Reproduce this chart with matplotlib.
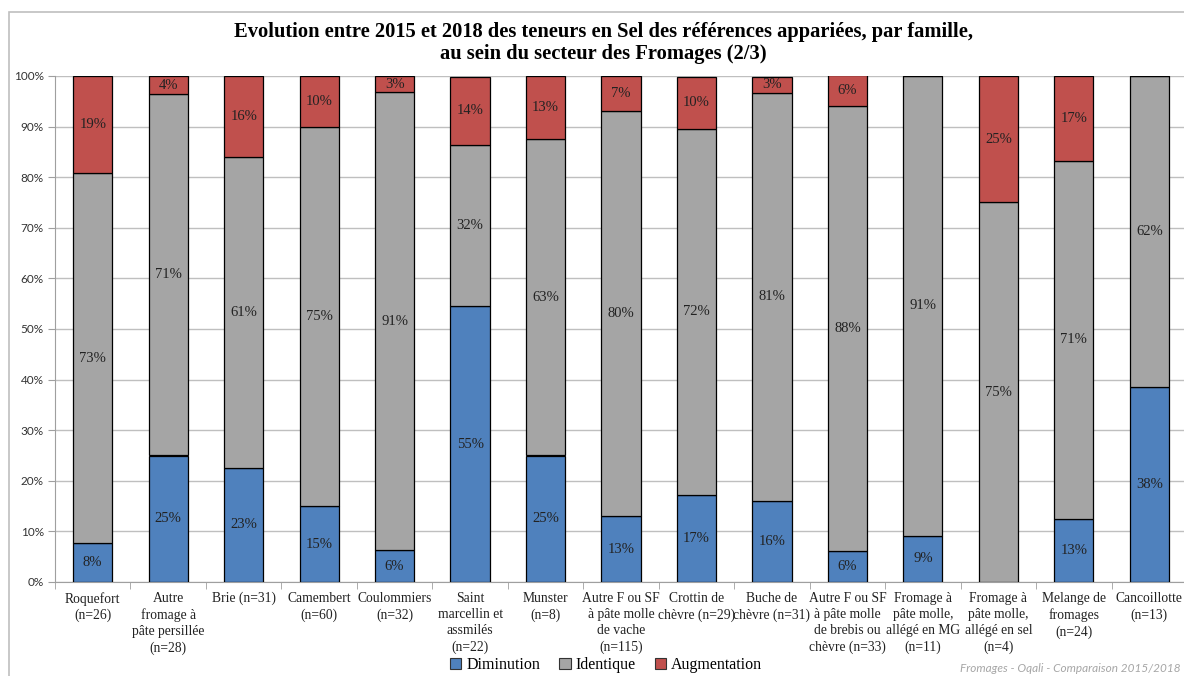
import matplotlib
matplotlib.use("Agg")
import matplotlib.pyplot as plt
import numpy as np
from matplotlib.patches import Rectangle, Patch

categories = [
    "Roquefort\n(n=26)",
    "Autre\nfromage à\npâte persillée\n(n=28)",
    "Brie (n=31)",
    "Camembert\n(n=60)",
    "Coulommiers\n(n=32)",
    "Saint\nmarcellin et\nassmilés\n(n=22)",
    "Munster\n(n=8)",
    "Autre F ou SF\nà pâte molle\nde vache\n(n=115)",
    "Crottin de\nchèvre (n=29)",
    "Buche de\nchèvre (n=31)",
    "Autre F ou SF\nà pâte molle\nde brebis ou\nchèvre (n=33)",
    "Fromage à\npâte molle,\nallégé en MG\n(n=11)",
    "Fromage à\npâte molle,\nallégé en sel\n(n=4)",
    "Melange de\nfromages\n(n=24)",
    "Cancoillotte\n(n=13)",
]
diminution   = [7.7, 25.0, 22.6, 15.0, 6.25, 54.5, 25.0, 13.0, 17.2, 16.1, 6.1, 9.1, 0.0, 12.5, 38.46]
identique    = [73.1, 71.4, 61.3, 75.0, 90.6, 31.8, 62.5, 80.0, 72.4, 80.6, 87.9, 90.9, 75.0, 70.8, 61.54]
augmentation = [19.2, 3.6, 16.1, 10.0, 3.1, 13.6, 12.5, 7.0, 10.3, 3.2, 6.1, 0.0, 25.0, 16.7, 0.0]
series_names = ["Diminution", "Identique", "Augmentation"]
colors = ["#4F81BD", "#A5A5A5", "#C0504D"]
yticks = [0, 10, 20, 30, 40, 50, 60, 70, 80, 90, 100]

title = ("Evolution entre 2015 et 2018 des teneurs en Sel des références appariées, par famille,\n"
         "au sein du secteur des Fromages (2/3)")
footer = "Fromages - Oqali - Comparaison 2015/2018"

SERIF = ["Liberation Serif", "DejaVu Serif"]
SANS = ["Lato", "DejaVu Sans"]

W, H = 1184, 676
fig = plt.figure(figsize=(W / 100, H / 100), dpi=100)

# outer chart frame
fig.patches.append(Rectangle((9 / W, -0.1), 1.2, 1.1 - 12 / H, transform=fig.transFigure,
                             fill=False, edgecolor="#BFBFBF", linewidth=1.2, zorder=0))

L, R, T, B = 55, 1187, 76, 582
ax = fig.add_axes([L / W, 1 - B / H, (R - L) / W, (B - T) / H])
ax.patch.set_alpha(0)
x = np.arange(len(categories))
bottom = np.zeros(len(categories))
for name, vals, c in zip(series_names, [diminution, identique, augmentation], colors):
    vals = np.array(vals)
    ax.bar(x, vals, 0.52, bottom=bottom, color=c, edgecolor="black", linewidth=0.9,
           label=name, zorder=3)
    for xi, b, v in zip(x, bottom, vals):
        if v > 0:
            ax.text(xi, b + v / 2, f"{int(v + 0.5)}%", ha="center", va="center",
                    fontsize=10.5, family=SERIF, color="#222222", zorder=4)
    bottom += vals

ax.set_xlim(-0.5, len(categories) - 0.5)
ax.set_ylim(0, 100)
ax.set_yticks(yticks)
ax.set_yticklabels([f"{t}%" for t in yticks], family=SANS, fontsize=8.5, color="#333333")
ax.yaxis.grid(True, color="#BFBFBF", linewidth=1.0, zorder=0)
ax.set_axisbelow(True)
for s in ["top", "right"]:
    ax.spines[s].set_visible(False)
ax.spines["left"].set_color("#9F9F9F")
ax.spines["bottom"].set_color("#9F9F9F")
ax.tick_params(axis="y", length=5, color="#9F9F9F", pad=3)

ax.set_xticks(x)
ax.set_xticklabels(categories, family=SERIF, fontsize=9.8, color="#222222", va="top",
                   linespacing=1.33)
ax.tick_params(axis="x", length=0, pad=7)
ax.set_xticks(np.arange(-0.5, len(categories), 1.0), minor=True)
ax.tick_params(axis="x", which="minor", length=5, color="#9F9F9F")

fig.text(603 / W, 1 - 43 / H, title, ha="center", va="center", fontsize=14.8,
         fontweight="bold", family=SERIF, linespacing=1.12)

handles = [Patch(facecolor=c, edgecolor="#333333", linewidth=0.8) for c in colors]
fig.legend(handles, series_names, loc="center", bbox_to_anchor=(606 / W, 1 - 665 / H),
           ncol=3, frameon=False, prop={"family": SERIF, "size": 11.5},
           handlelength=0.7, handleheight=0.7, handletextpad=0.3, columnspacing=1.2)

fig.text(1181 / W, 1 - 668 / H, footer, ha="right", va="center", fontsize=8.5,
         style="italic", family=SANS, color="#A6A6A6")

fig.savefig("out.png", dpi=100)
